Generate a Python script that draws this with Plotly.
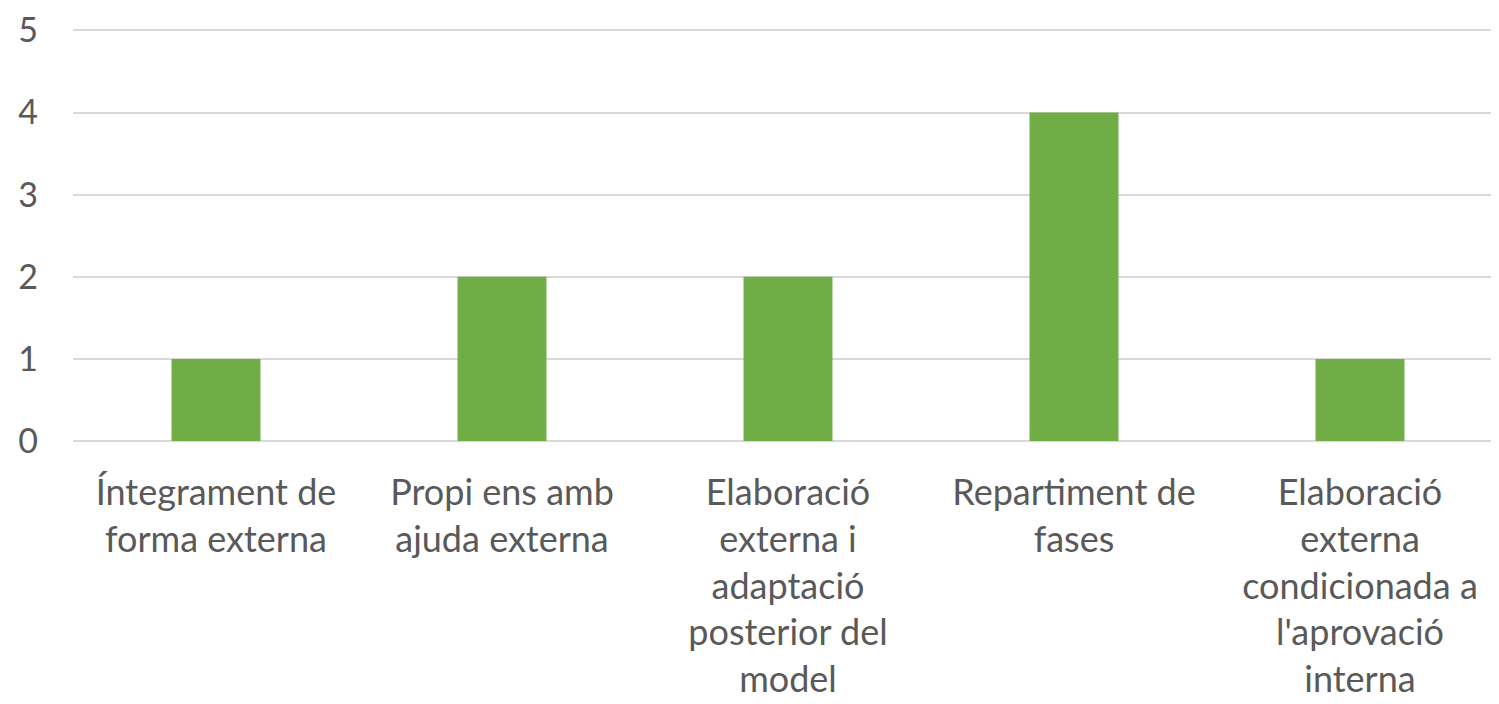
import plotly.graph_objects as go

categories = [
    "Íntegrament de<br>forma externa",
    "Propi ens amb<br>ajuda externa",
    "Elaboració<br>externa i<br>adaptació<br>posterior del<br>model",
    "Repartiment de<br>fases",
    "Elaboració<br>externa<br>condicionada a<br>l'aprovació<br>interna",
]
values = [1, 2, 2, 4, 1]
y_ticks = [0, 1, 2, 3, 4, 5]

text_color = "#595959"
grid_color = "#D9D9D9"
bar_color = "#70AD47"
font_family = "Lato, Open Sans, sans-serif"

fig = go.Figure(
    go.Bar(
        x=list(range(len(categories))),
        y=values,
        marker=dict(color=bar_color, line=dict(width=0)),
    )
)

# page body adds an 8px offset, so the figure is sized/placed to compensate
fig.update_layout(
    width=1491,
    height=696,
    margin=dict(l=65, r=0, t=20, b=263),
    paper_bgcolor="white",
    plot_bgcolor="white",
    bargap=0.689,
    showlegend=False,
    font=dict(family=font_family, size=36, color=text_color),
)

fig.update_xaxes(
    tickmode="array",
    tickvals=list(range(len(categories))),
    ticktext=categories,
    range=[-0.5, 4.486],
    showgrid=False,
    showline=False,
    zeroline=False,
    ticks="",
    tickangle=0,
    automargin=False,
    ticklabelstandoff=27,
    tickfont=dict(family=font_family, size=36, color=text_color),
)

fig.update_yaxes(
    range=[0, 5.03],
    tickmode="array",
    tickvals=y_ticks,
    showgrid=True,
    gridcolor=grid_color,
    gridwidth=2,
    zeroline=True,
    zerolinecolor=grid_color,
    zerolinewidth=2,
    showline=False,
    ticks="",
    automargin=False,
    ticklabelstandoff=34,
    tickfont=dict(family=font_family, size=34, color=text_color),
)

fig.write_html("out.html")
